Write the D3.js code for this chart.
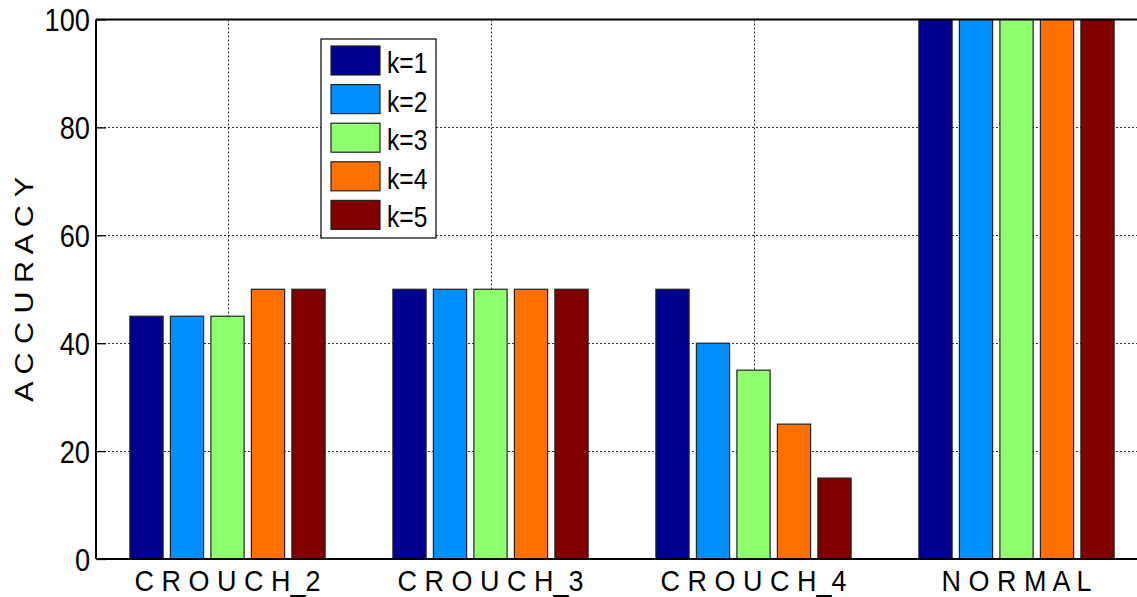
<!DOCTYPE html>
<html>
<head>
<meta charset="utf-8">
<script src="https://cdn.jsdelivr.net/npm/d3@7"></script>
<style>
  html, body { margin: 0; padding: 0; background: #fff; }
  svg { display: block; font-family: "Liberation Sans", Arial, sans-serif; }
</style>
</head>
<body>
<svg id="chart" width="1137" height="597"></svg>
<script>
// Accuracy per posture class for each k
const categories = ["CROUCH_2", "CROUCH_3", "CROUCH_4", "NORMAL"];
const seriesNames = ["k=1", "k=2", "k=3", "k=4", "k=5"];
const k1 = [45, 50, 50, 100];
const k2 = [45, 50, 40, 100];
const k3 = [45, 50, 35, 100];
const k4 = [50, 50, 25, 100];
const k5 = [50, 50, 15, 100];
const seriesColors = ["#00008f", "#008fff", "#8fff70", "#ff7000", "#800000"];
const yTicks = [0, 20, 40, 60, 80, 100];
const yLabel = "ACCURACY";

const series = [k1, k2, k3, k4, k5];

const svg = d3.select("#chart");
const plotL = 96, plotR = 1148, plotT = 19.5, plotB = 559;
const SQ = 0.85; // horizontal squeeze of the numeric lettering

const x = d3.scaleBand().domain(categories).range([plotL, plotR]).padding(0);
const groupW = x.bandwidth() * 0.77;
const xs = d3.scaleBand().domain(seriesNames)
  .range([-groupW / 2, groupW / 2]).paddingInner(0.18).paddingOuter(0.09);
const y = d3.scaleLinear().domain([0, 100]).range([plotB, plotT]);

// letters separated by spaces, underscore kept tight
const spaced = s => s.replace(/_/g, "\u0001").split("").join(" ")
  .replace(/ ?\u0001 ?/g, "_");

// grid
const grid = svg.append("g").attr("stroke", "#333").attr("stroke-width", 1)
  .attr("stroke-dasharray", "2,2");
yTicks.filter(t => t > 0 && t < 100).forEach(t => {
  grid.append("line").attr("x1", plotL).attr("x2", plotR)
    .attr("y1", Math.round(y(t)) + 0.5).attr("y2", Math.round(y(t)) + 0.5);
});
categories.forEach(c => {
  const cx = Math.round(x(c) + x.bandwidth() / 2) + 0.5;
  grid.append("line").attr("x1", cx).attr("x2", cx).attr("y1", plotT).attr("y2", plotB);
});

// bars
seriesNames.forEach((name, si) => {
  svg.append("g").selectAll("rect").data(series[si]).join("rect")
    .attr("x", (d, i) => x(categories[i]) + x.bandwidth() / 2 + xs(name))
    .attr("width", xs.bandwidth())
    .attr("y", d => y(d))
    .attr("height", d => y(0) - y(d))
    .attr("fill", seriesColors[si])
    .attr("stroke", "#222").attr("stroke-width", 1.2);
});

// axes frame
svg.append("line").attr("x1", plotL).attr("x2", plotL).attr("y1", plotT).attr("y2", plotB)
  .attr("stroke", "#000").attr("stroke-width", 2);
svg.append("line").attr("x1", plotL).attr("x2", plotR).attr("y1", plotB).attr("y2", plotB)
  .attr("stroke", "#000").attr("stroke-width", 2);
svg.append("line").attr("x1", plotL).attr("x2", plotR).attr("y1", plotT).attr("y2", plotT)
  .attr("stroke", "#000").attr("stroke-width", 2);

// y axis ticks (inward) and labels
const yAxis = d3.axisLeft(y).tickValues(yTicks).tickSize(-10).tickPadding(0);
const ya = svg.append("g").attr("transform", `translate(${plotL},0)`).call(yAxis);
ya.select(".domain").remove();
ya.selectAll(".tick line").attr("stroke", "#000").attr("stroke-width", 1.3);
ya.selectAll(".tick text")
  .attr("font-size", 32).attr("fill", "#000")
  .attr("font-family", "'Liberation Sans', Arial, sans-serif")
  .attr("transform", `scale(${SQ},1)`)
  .attr("x", -6 / SQ).attr("dy", "0.35em");

// x axis category labels
const xAxis = d3.axisBottom(x).tickSize(0).tickPadding(0).tickFormat(spaced);
const xa = svg.append("g").attr("transform", `translate(0,${plotB})`).call(xAxis);
xa.select(".domain").remove();
xa.selectAll(".tick text")
  .attr("font-size", 29).attr("fill", "#000")
  .attr("font-family", "'Liberation Sans', Arial, sans-serif")
  .attr("y", 32).attr("dy", 0)
  .attr("transform", "scale(0.93,1)")
  .attr("text-anchor", "middle");

// y axis title, lettering stretched along its length
svg.append("text")
  .attr("transform", `translate(33,${(plotT + plotB) / 2}) rotate(-90) scale(1.22,1)`)
  .attr("text-anchor", "middle").attr("font-size", 25).attr("fill", "#000")
  .text(spaced(yLabel));

// legend
const lg = svg.append("g").attr("transform", "translate(321,39)");
lg.append("rect").attr("width", 115).attr("height", 199)
  .attr("fill", "#fff").attr("stroke", "#000").attr("stroke-width", 1.2);
seriesNames.forEach((name, i) => {
  const g = lg.append("g").attr("transform", `translate(10,${7 + i * 38.6})`);
  g.append("rect").attr("width", 49).attr("height", 29)
    .attr("fill", seriesColors[i]).attr("stroke", "#222").attr("stroke-width", 1.2);
  g.append("text").attr("transform", `translate(56,27) scale(0.82,1)`)
    .attr("font-size", 30).attr("fill", "#000").text(name);
});
</script>
</body>
</html>
